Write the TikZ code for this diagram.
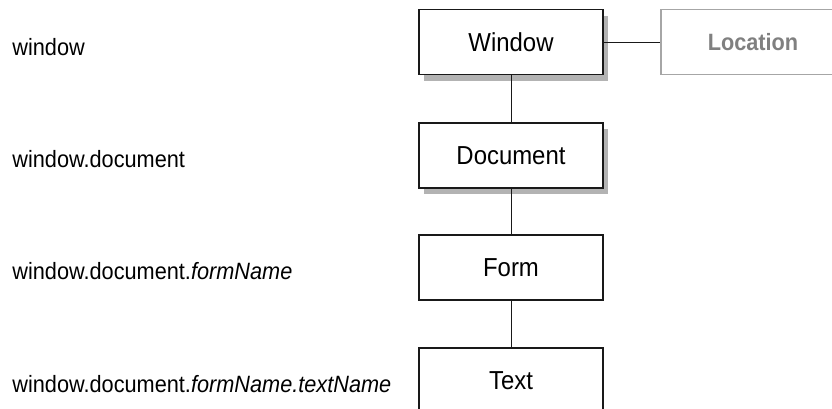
\documentclass[tikz,border=0pt]{standalone}
\usepackage{fontspec}
\setmainfont{Liberation Sans}[FakeStretch=0.92]
\usepackage{xcolor}
\usepackage{tikz}
\usetikzlibrary{shapes, arrows.meta, calc, shadows}
\definecolor{objgray}{HTML}{A6A6A6}
\definecolor{loctext}{HTML}{808080}
\definecolor{shadowgray}{HTML}{B3B3B3}
\tikzstyle{object} = [rectangle, draw=black!90, line width=0.65pt, fill=white,
    minimum width=92pt, minimum height=32.5pt, inner sep=0pt, font=\fontsize{13}{15}\selectfont]
\tikzstyle{shadowed} = [drop shadow={shadow xshift=2.6pt, shadow yshift=-3pt,
    fill=shadowgray, opacity=1}]
\tikzstyle{path} = [anchor=base west, inner sep=0pt, font=\fontsize{11.8}{14}\selectfont]
\tikzstyle{line} = [draw, line width=0.5pt, black!90]

\begin{document}
\begin{tikzpicture}[x=0.5pt, y=-0.5pt]
    \useasboundingbox (0,0) rectangle (832,408);
    % Nodes
    \node[object, shadowed] (window) at (511,42) {Window};
    \node[object, draw=objgray, text=loctext, font=\fontsize{11.8}{14}\selectfont\bfseries]
        (location) at (753,42) {Location};
    \node[object, shadowed] (document) at (511,155.5) {Document};
    \node[object] (form) at (511,267.5) {Form};
    \node[object] (text) at (511,380.5) {Text};

    % Paths on the left
    \node[path] (pwindow) at (12,55) {window};
    \node[path] (pdocument) at (12,167) {window.document};
    \node[path] (pform) at (12,279) {window.document.\textit{formName}};
    \node[path] (ptext) at (12,392) {window.document.\textit{formName.textName}};

    % Edges
    \path[line] (window) -- (location);
    \path[line] (window) -- (document);
    \path[line] (document) -- (form);
    \path[line] (form) -- (text);
\end{tikzpicture}
\end{document}
